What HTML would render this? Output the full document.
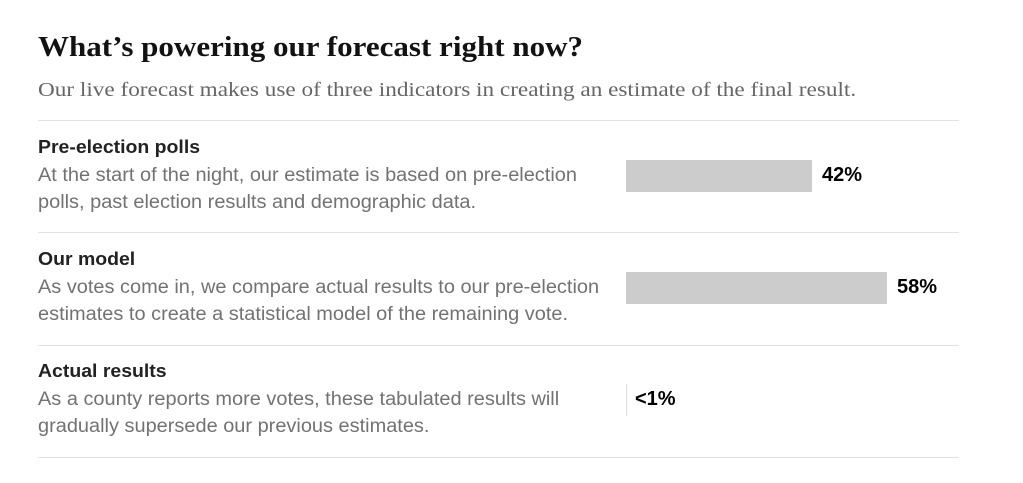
<!DOCTYPE html>
<html><head><meta charset="utf-8"><style>
body{margin:0;width:1023px;height:483px;background:#fff;position:relative;overflow:hidden;font-family:"Liberation Sans",sans-serif}
.a{position:absolute;white-space:nowrap;transform-origin:0 50%}
h1{position:absolute;left:38px;top:31px;margin:0;font:bold 29px "Liberation Serif",serif;color:#121212;white-space:nowrap;transform:scaleX(1.07);transform-origin:0 50%}
.sub{left:38px;top:79px;font:20px "Liberation Serif",serif;color:#666;transform:scaleX(1.16)}
.hr{position:absolute;left:38px;width:921px;height:1px;background:#e2e2e2}
.lab{left:38px;font-weight:bold;font-size:18px;color:#222;transform:scaleX(1.08)}
.desc{left:38px;font-size:19px;color:#727272;line-height:27px;transform:scaleX(1.05)}
.bar{position:absolute;left:626px;height:32px;background:#ccc}
.pct{font-weight:bold;font-size:20px;color:#000}
</style></head><body>
<h1>What’s powering our forecast right now?</h1>
<div class="a sub">Our live forecast makes use of three indicators in creating an estimate of the final result.</div>
<div class="hr" style="top:120px"></div>
<div class="hr" style="top:232px"></div>
<div class="hr" style="top:345px"></div>
<div class="hr" style="top:457px"></div>

<div class="a lab" style="top:137px">Pre-election polls</div>
<div class="a desc" style="top:162px">At the start of the night, our estimate is based on pre-election<br>polls, past election results and demographic data.</div>
<div class="bar" style="top:160px;width:186px"></div>
<div class="a pct" style="left:822px;top:164px">42%</div>

<div class="a lab" style="top:249px">Our model</div>
<div class="a desc" style="top:274px">As votes come in, we compare actual results to our pre-election<br>estimates to create a statistical model of the remaining vote.</div>
<div class="bar" style="top:272px;width:261px"></div>
<div class="a pct" style="left:897px;top:276px">58%</div>

<div class="a lab" style="top:361px">Actual results</div>
<div class="a desc" style="top:386px">As a county reports more votes, these tabulated results will<br>gradually supersede our previous estimates.</div>
<div class="bar" style="top:384px;width:1px;height:32px;background:#ddd"></div>
<div class="a pct" style="left:635px;top:388px">&lt;1%</div>
</body></html>
